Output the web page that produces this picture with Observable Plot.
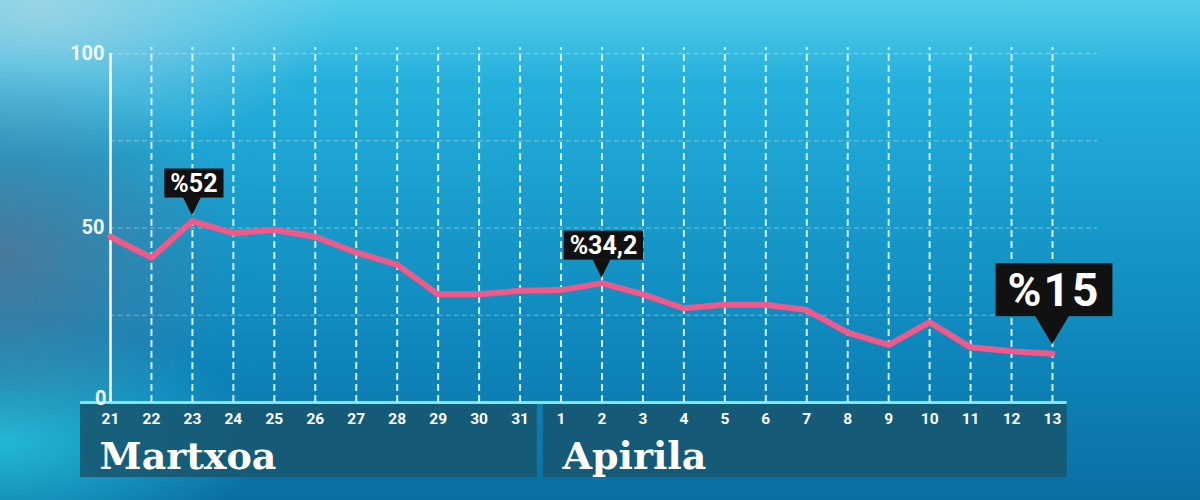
<!DOCTYPE html>
<html>
<head>
<meta charset="utf-8">
<script src="https://cdn.jsdelivr.net/npm/d3@7"></script>
<script src="https://cdn.jsdelivr.net/npm/@observablehq/plot@0.6"></script>
<style>
  html, body { margin: 0; padding: 0; }
  #chart {
    width: 1200px; height: 500px; overflow: hidden; position: relative;
    background:
      radial-gradient(ellipse 240px 190px at 0px 255px, rgba(85,115,145,0.8), rgba(85,115,145,0) 100%),
      radial-gradient(ellipse 300px 150px at 40px 10px, rgba(175,215,228,0.75), rgba(175,215,228,0) 100%),
      radial-gradient(ellipse 260px 120px at 0px 440px, rgba(40,200,225,0.8), rgba(40,200,225,0) 100%),
      linear-gradient(to bottom, #55cdea 0%, #25b0dc 16%, #1799c9 45%, #0f86bb 70%, #0a6fa2 100%);
  }
  #chart svg { position: absolute; left: 0; top: 0; }
</style>
</head>
<body>
<div id="chart"></div>
<script>
// ---- data ----
const days = [21,22,23,24,25,26,27,28,29,30,31,1,2,3,4,5,6,7,8,9,10,11,12,13];
const values = [47.5,41.5,52,48.5,49.5,47.5,43,39.5,31,31,32,32.2,34.2,31,27,28,28,26.5,20,16.5,23,15.8,14.7,14];
const months = ["Martxoa", "Apirila"];
const monthStart = [0, 11];
const monthEnd = [10, 23];
const yTicks = [100, 50, 0];
const yGrid = [25, 50, 75, 100];
const calloutIndex = [2, 12, 23];
const calloutText = ["%52", "%34,2", "%15"];
const calloutBig = [false, false, true];

const data = days.map((d, i) => ({i, day: d, value: values[i]}));
const idx = d3.range(days.length);
const monthData = months.map((m, k) => ({
  name: m,
  x1: monthStart[k] - (k === 0 ? 0.73 : 0.43),
  x2: monthEnd[k] + (k === 0 ? 0.42 : 0.36)
}));

const condensed = "Roboto,'Liberation Sans',sans-serif";

const plot = Plot.plot({
  width: 1200,
  height: 500,
  marginLeft: 110,
  marginRight: 148,
  marginTop: 53,
  marginBottom: 98,
  style: {background: "transparent", overflow: "visible"},
  x: {type: "linear", domain: [0, days.length - 1], axis: null},
  y: {domain: [0, 100], axis: null},
  marks: [
    // bottom month panels
    Plot.rectX(monthData, {x1: "x1", x2: "x2", y1: 0, y2: -21.5, fill: "#17566f", fillOpacity: 0.88}),
    Plot.ruleY([0], {x1: monthData[0].x1, x2: monthData[1].x2, stroke: "#7fe6f4", strokeWidth: 3}),
    // horizontal dashed grid
    Plot.ruleY(yGrid, {x1: 0, x2: 24.1, stroke: "#ffffff", strokeOpacity: 0.25, strokeWidth: 1.5, strokeDasharray: "5,3"}),
    // vertical dashed grid
    Plot.ruleX(idx.slice(1), {y1: 0, y2: 101.7, stroke: "#d4f7ff", strokeOpacity: 0.95, strokeWidth: 2, strokeDasharray: "7,4"}),
    // y axis line
    Plot.ruleX([0], {y1: 0, y2: 100, stroke: "#ffffff", strokeWidth: 2.5}),
    // y tick labels
    Plot.text(yTicks.filter(v => v > 0), {x: 0, y: d => d, text: d => String(d), textAnchor: "end", dx: -6, fill: "#f2f8fa", fontSize: 20, fontWeight: "bold", fontFamily: condensed}),
    Plot.text(yTicks.filter(v => v === 0), {x: 0, y: d => d, text: d => String(d), textAnchor: "end", lineAnchor: "bottom", dx: -4, dy: 2, fill: "#f2f8fa", fontSize: 20, fontWeight: "bold", fontFamily: condensed}),
    // day labels
    Plot.text(data, {x: "i", y: 0, text: d => String(d.day), dy: 17, fill: "#ffffff", fontSize: 15.5, fontWeight: "bold", fontFamily: condensed}),
    // month labels
    Plot.text(monthData, {x: "x1", y: 0, text: "name", textAnchor: "start", lineAnchor: "bottom", dx: 19, dy: 66, fill: "#ffffff", fontSize: 38, fontWeight: "bold", fontFamily: "'DejaVu Serif',serif"}),
    // line
    Plot.line(data, {x: "i", y: "value", stroke: "#f05a8a", strokeWidth: 6, strokeLinejoin: "round", strokeLinecap: "round"})
  ]
});

document.getElementById("chart").appendChild(plot);

// callouts positioned through Plot's scales
const sx = plot.scale("x"), sy = plot.scale("y");
const svg = d3.select(plot);
const g = svg.append("g");
calloutIndex.forEach((ci, k) => {
  const px = sx.apply(ci), py = sy.apply(values[ci]);
  const big = calloutBig[k];
  const gap = big ? 9 : 5;
  const triH = big ? 28 : 18;
  const triW = big ? 34 : 18;
  const boxH = big ? 53 : 29;
  const fs = big ? 46 : 25;
  const tipY = py - gap;
  const boxBottom = tipY - triH;
  const t = g.append("text")
    .attr("x", px + 2)
    .attr("y", boxBottom - boxH / 2)
    .attr("text-anchor", "middle")
    .attr("dominant-baseline", "central")
    .attr("fill", "#ffffff")
    .attr("font-size", fs)
    .attr("font-weight", "bold")
    .attr("letter-spacing", big ? 2 : 0)
    .attr("font-family", condensed)
    .text(calloutText[k]);
  const bb = t.node().getBBox();
  const padX = big ? 12 : 6;
  g.insert("rect", "text")
    .attr("x", bb.x - padX)
    .attr("y", boxBottom - boxH)
    .attr("width", bb.width + 2 * padX)
    .attr("height", boxH)
    .attr("fill", "#111111");
  g.insert("path", "text")
    .attr("d", `M${px - triW / 2},${boxBottom - 0.5}L${px + triW / 2},${boxBottom - 0.5}L${px},${tipY}Z`)
    .attr("fill", "#111111");
});
</script>
</body>
</html>
